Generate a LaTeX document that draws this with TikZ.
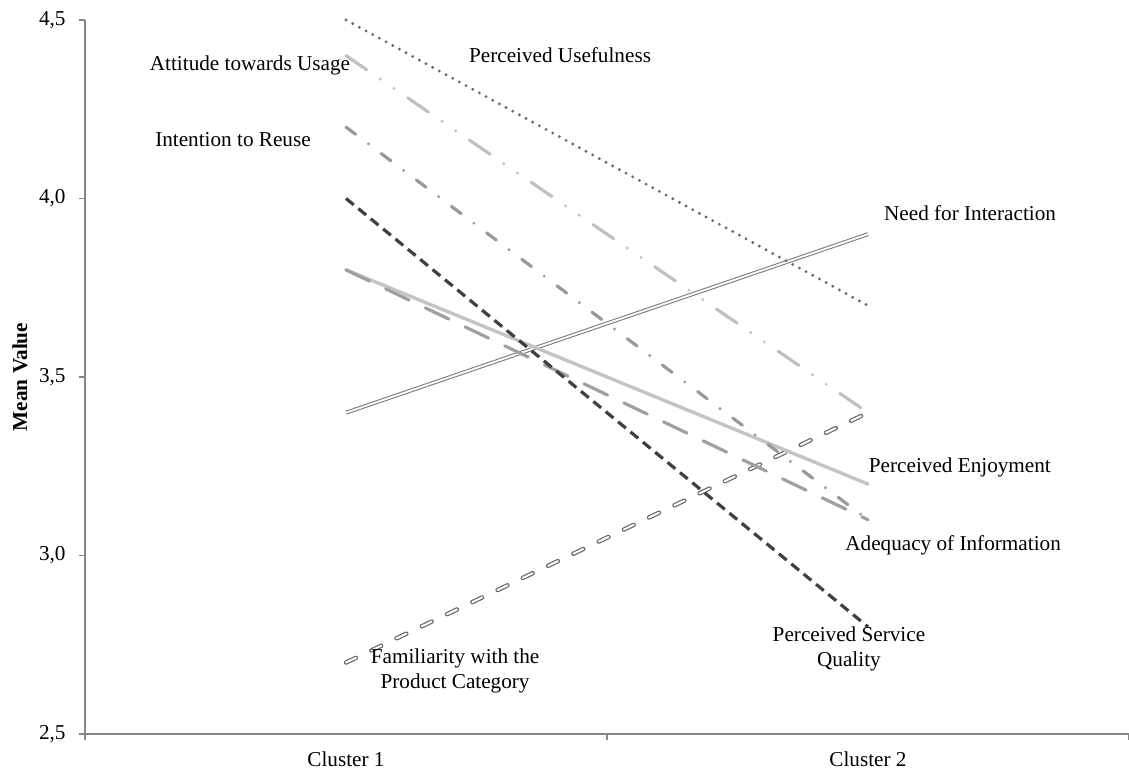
\documentclass[tikz,border=0pt]{standalone}
\usepackage{fontspec}
\setmainfont{Liberation Serif}
\usetikzlibrary{calc}

\definecolor{axisgray}{HTML}{868686}
\definecolor{usegray}{HTML}{6A6A6A}
\definecolor{attgray}{HTML}{C0C0C0}
\definecolor{intgray}{HTML}{999999}
\definecolor{servgray}{HTML}{404040}
\definecolor{adqgray}{HTML}{A0A0A0}
\definecolor{enjgray}{HTML}{C4C4C4}
\definecolor{needgray}{HTML}{808080}
\definecolor{famgray}{HTML}{666666}

\begin{document}
\begin{tikzpicture}[x=130.5pt, y=178.5pt,
  every node/.style={font=\fontsize{10.6}{12.5}\selectfont},
  axisline/.style={axisgray, line width=0.75pt},
  serie/.style={line width=1.5pt, line cap=round},
  lbl/.style={align=center}]
\useasboundingbox (-0.3257,2.388) rectangle (4,4.556);

% Axes
\draw[axisline] (0,4.5) -- (0,2.5) -- (4,2.5);
\foreach \v/\t [count=\i] in {2.5/{2,5},3.0/{3,0},3.5/{3,5},4.0/{4,0},4.5/{4,5}} {
  \draw[axisline] (-0.023,\v) -- (0,\v);
  \node[anchor=east, inner sep=0pt] (tick\i) at (-0.073,\v) {\t};
}
\foreach \x in {0,2,4}
  \draw[axisline] (\x,2.5) -- (\x,2.483);
\node (clusterA) at (1,2.43) {Cluster 1};
\node (clusterB) at (3,2.43) {Cluster 2};
\node[rotate=90, font=\fontsize{10.6}{12.5}\selectfont\bfseries] (ylabel) at (-0.249,3.5) {Mean Value};

% Need for Interaction
\draw[needgray, line width=0.55pt, double=white, double distance=0.9pt] (1,3.4) -- (3,3.9);
\node[lbl] (needlbl) at (3.391,3.959) {Need for Interaction};

% Familiarity with the Product Category
\draw[famgray, line width=0.6pt, double=white, double distance=1pt, line cap=round,
  dash pattern=on 5.5pt off 8.5pt] (1,2.7) -- (3,3.4);
\node[lbl] (famlbl) at (1.418,2.676) {Familiarity with the\\Product Category};

% Perceived Enjoyment
\draw[serie, enjgray, line width=1.7pt] (1,3.8) -- (3,3.2);
\node[lbl] (enjlbl) at (3.352,3.248) {Perceived Enjoyment};

% Adequacy of Information
\draw[serie, adqgray, line width=1.6pt, dash pattern=on 13pt off 9pt] (1,3.8) -- (3,3.1);
\node[lbl] (adqlbl) at (3.326,3.029) {Adequacy of Information};

% Intention to Reuse
\draw[serie, intgray, line width=1.6pt, dash pattern=on 6pt off 8pt on 0pt off 8pt] (1,4.2) -- (3,3.1);
\node[lbl] (intlbl) at (0.567,4.164) {Intention to Reuse};

% Attitude towards Usage
\draw[serie, attgray, line width=1.6pt, dash pattern=on 12.5pt off 8.3pt on 0pt off 8.3pt on 0pt off 8.3pt] (1,4.4) -- (3,3.4);
\node[lbl] (attlbl) at (0.632,4.374) {Attitude towards Usage};

% Perceived Usefulness
\draw[serie, usegray, line width=1.6pt, dash pattern=on 0pt off 3.8pt] (1,4.5) -- (3,3.7);
\node[lbl] (uselbl) at (1.82,4.402) {Perceived Usefulness};

% Perceived Service Quality
\draw[servgray, line width=1.6pt, dash pattern=on 5pt off 3pt] (1,4.0) -- (3,2.8);
\node[lbl] (servlbl) at (2.927,2.738) {Perceived Service\\Quality};
\end{tikzpicture}
\end{document}
